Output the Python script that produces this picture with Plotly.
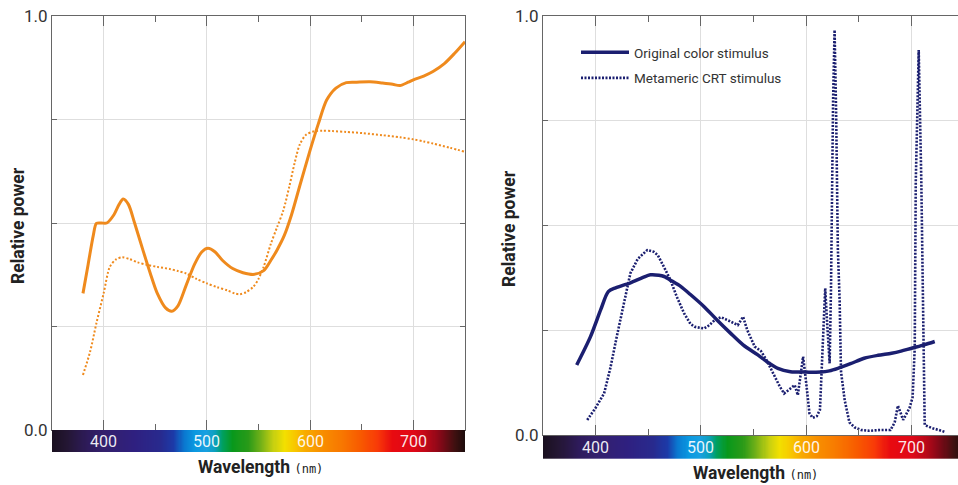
import plotly.graph_objects as go
import numpy as np

# ---------------- data ----------------
left_orig_wl = [380, 385, 390, 393, 398, 403, 410, 415, 419, 424, 430, 438, 445, 452, 460, 466, 472,
                480, 488, 495, 501, 508, 515, 525, 535, 546, 555, 562, 568, 575, 582, 590, 600, 608,
                616, 625, 635, 645, 658, 670, 680, 687, 695, 700, 710, 719, 730, 740, 750]
left_orig_val = [0.330, 0.40, 0.47, 0.499, 0.50, 0.50, 0.52, 0.545, 0.558, 0.545, 0.50, 0.435, 0.38,
                 0.33, 0.295, 0.287, 0.30, 0.35, 0.40, 0.43, 0.439, 0.43, 0.41, 0.39, 0.38, 0.376,
                 0.385, 0.41, 0.435, 0.47, 0.52, 0.59, 0.676, 0.74, 0.797, 0.826, 0.839, 0.84, 0.841,
                 0.838, 0.835, 0.832, 0.84, 0.846, 0.855, 0.866, 0.885, 0.91, 0.938]

left_meta_wl = [380, 387, 393, 400, 406, 412, 418, 425, 433, 442, 452, 464, 472, 480, 490, 500, 510,
                520, 527, 532, 538, 545, 550, 555, 562, 568, 574, 580, 585, 590, 596, 603, 612, 622,
                635, 651, 670, 687, 700, 710, 719, 735, 750]
left_meta_val = [0.133, 0.19, 0.258, 0.33, 0.394, 0.412, 0.417, 0.413, 0.405, 0.399, 0.394, 0.389,
                 0.384, 0.378, 0.365, 0.354, 0.345, 0.337, 0.33, 0.328, 0.333, 0.346, 0.365, 0.394,
                 0.45, 0.49, 0.53, 0.59, 0.645, 0.69, 0.713, 0.721, 0.723, 0.722, 0.72, 0.717,
                 0.712, 0.707, 0.702, 0.697, 0.692, 0.682, 0.672]

right_orig_wl = [382, 395, 405, 412, 419, 433, 445, 452, 460, 465, 472, 481, 490, 503, 515, 528, 540,
                 554, 565, 573, 585, 600, 614, 622, 630, 642, 655, 668, 681, 690, 700, 712, 722]
right_orig_val = [0.167, 0.234, 0.30, 0.342, 0.351, 0.363, 0.376, 0.382, 0.381, 0.378, 0.368, 0.354,
                  0.335, 0.306, 0.275, 0.243, 0.215, 0.191, 0.171, 0.159, 0.151, 0.150, 0.150, 0.153,
                  0.159, 0.170, 0.183, 0.190, 0.195, 0.200, 0.207, 0.215, 0.223]

right_meta_wl = [392, 400, 408, 414, 420, 427, 433, 440, 449, 455, 459, 465, 471, 477, 484, 490, 494,
                 503, 508, 513, 519, 527, 535, 540, 544, 551, 557, 562, 570, 575, 579, 584, 589, 592,
                 597, 600, 603, 606, 610, 613, 616, 618, 620, 622.2, 623.5, 624.4, 625.5, 626.9,
                 628.4, 630, 631.7, 633, 636.5, 641, 646, 652, 660, 670, 680, 684, 687, 690, 692,
                 695, 698, 701, 703, 704, 706.8, 709.3, 711, 712.5, 716, 720, 726, 732]
right_meta_val = [0.036, 0.065, 0.099, 0.16, 0.234, 0.32, 0.386, 0.42, 0.441, 0.437, 0.429, 0.40,
                  0.370, 0.33, 0.290, 0.265, 0.258, 0.254, 0.262, 0.274, 0.281, 0.272, 0.262, 0.282,
                  0.25, 0.211, 0.200, 0.18, 0.139, 0.115, 0.099, 0.11, 0.119, 0.095, 0.187, 0.123,
                  0.052, 0.041, 0.045, 0.06, 0.243, 0.35, 0.26, 0.171, 0.35, 0.62, 0.80, 0.966,
                  0.763, 0.445, 0.32, 0.151, 0.083, 0.03, 0.018, 0.012, 0.010, 0.012, 0.012, 0.03,
                  0.07, 0.05, 0.036, 0.05, 0.064, 0.09, 0.207, 0.604, 0.918, 0.6, 0.207, 0.024,
                  0.02, 0.016, 0.012, 0.007]

x_tick_vals = [400, 500, 600, 700]
x_tick_labels = ["400", "500", "600", "700"]
x_minor_vals = [450, 550, 650]
y_tick_vals = [0, 0.25, 0.5, 0.75, 1.0]
y_tick_labels = ["0.0", "", "", "", "1.0"]

legend_names = ["Original color stimulus", "Metameric CRT stimulus"]

# spectrum colour stops for the wavelength strip
spec_wl = [350, 365, 385, 400, 430, 455, 468, 478, 488, 500, 508, 515, 525, 540, 552, 565, 575,
           585, 597, 610, 630, 650, 665, 680, 700, 712, 725, 740, 750]
spec_col = ["#1a1020", "#241634", "#2e1b5c", "#33206c", "#2f2080", "#282a8e", "#1c3aa8", "#0a78d0",
            "#0a98e0", "#18a0e0", "#0aa0b8", "#00a060", "#08981c", "#2a9a18", "#70b018", "#c8d010",
            "#f2e000", "#f8c800", "#f8a800", "#f89000", "#f87800", "#f85800", "#f83a08", "#e80a10",
            "#e00818", "#c00818", "#880818", "#401010", "#1e0c0c"]

ORANGE = "#ef8a1d"
NAVY = "#1b1f70"
W, H = 958, 485

def px_x(p):
    return p / W

def px_y(p):
    return 1 - p / H

L_dom = [px_x(52), px_x(465)]
R_dom = [px_x(543), 1.0]
L_range = [350, 750]
R_range = [350, 744.1]

fig = go.Figure()

strip_wl = np.arange(350, 751, 1)
cscale = [[(w - 350) / 400, c] for w, c in zip(spec_wl, spec_col)]

# spectrum strips
for xa, ya in (("x3", "y3"), ("x4", "y4")):
    fig.add_trace(go.Heatmap(x=strip_wl, y=[0.5], z=[strip_wl], zmin=350, zmax=750,
                             colorscale=cscale, showscale=False, hoverinfo="skip",
                             xaxis=xa, yaxis=ya))

# left plot
fig.add_trace(go.Scatter(x=left_meta_wl, y=left_meta_val, mode="lines",
                         line=dict(color=ORANGE, width=2, dash="2px,2px", shape="spline", smoothing=0.8),
                         showlegend=False, xaxis="x", yaxis="y"))
fig.add_trace(go.Scatter(x=left_orig_wl, y=left_orig_val, mode="lines",
                         line=dict(color=ORANGE, width=3, shape="spline", smoothing=0.8),
                         showlegend=False, xaxis="x", yaxis="y"))

# right plot
fig.add_trace(go.Scatter(x=right_meta_wl, y=right_meta_val, mode="lines", name=legend_names[1],
                         line=dict(color=NAVY, width=2.6, dash="2px,1.5px"),
                         legendgroup="b", legendrank=2, xaxis="x2", yaxis="y2"))
fig.add_trace(go.Scatter(x=right_orig_wl, y=right_orig_val, mode="lines", name=legend_names[0],
                         line=dict(color=NAVY, width=3.5, shape="spline", smoothing=0.8),
                         legendgroup="a", legendrank=1, xaxis="x2", yaxis="y2"))

AXC = "#666666"
GRID = "#dedede"
TICKFONT = dict(family="Roboto, sans-serif", size=17, color="#333333")

def xaxis_main(dom, rng, anchor):
    return dict(domain=dom, range=rng, anchor=anchor, tickvals=x_tick_vals,
                ticktext=["" for _ in x_tick_vals], ticks="inside", ticklen=10, tickcolor=AXC,
                showline=True, linecolor=AXC, linewidth=1, mirror="ticks",
                showgrid=True, gridcolor=GRID, gridwidth=1, zeroline=False,
                minor=dict(tickvals=x_minor_vals, ticks="inside", ticklen=6, tickcolor=AXC, showgrid=False),
                automargin=False, fixedrange=True)

def yaxis_main(dom, anchor, mirror):
    return dict(domain=dom, range=[0, 1], anchor=anchor, tickvals=y_tick_vals, ticktext=y_tick_labels,
                ticks="inside", ticklen=5, tickcolor=AXC, showline=True, linecolor=AXC, linewidth=1,
                mirror=mirror, showgrid=True, gridcolor=GRID, gridwidth=1, zeroline=False,
                tickfont=TICKFONT, automargin=False, fixedrange=True)

hidden = dict(visible=False, fixedrange=True, automargin=False)

fig.update_layout(
    width=W, height=H, margin=dict(l=0, r=0, t=0, b=0),
    paper_bgcolor="white", plot_bgcolor="white", template="none",
    xaxis=xaxis_main(L_dom, L_range, "y"),
    yaxis=yaxis_main([px_y(430), px_y(16)], "x", "ticks"),
    xaxis2=xaxis_main(R_dom, R_range, "y2"),
    yaxis2=yaxis_main([px_y(435), px_y(15.7)], "x2", False),
    xaxis3=dict(domain=L_dom, range=L_range, anchor="y3", **hidden),
    yaxis3=dict(domain=[px_y(452), px_y(430)], range=[0, 1], anchor="x3", **hidden),
    xaxis4=dict(domain=R_dom, range=R_range, anchor="y4", **hidden),
    yaxis4=dict(domain=[px_y(459), px_y(435.7)], range=[0, 1], anchor="x4", **hidden),
    showlegend=True,
    legend=dict(x=px_x(576), y=px_y(37), xanchor="left", yanchor="top",
                font=dict(family="Roboto, sans-serif", size=13.5, color="#333333"),
                bgcolor="rgba(0,0,0,0)", traceorder="grouped", tracegroupgap=5,
                itemwidth=48),
)

ann = []
for xa, ya in (("x3", "y3"), ("x4", "y4")):
    for v, t in zip(x_tick_vals, x_tick_labels):
        ann.append(dict(x=v, y=0.5, xref=xa, yref=ya + " domain", text=t, showarrow=False,
                        font=dict(family="Roboto, sans-serif", size=16,
                                  color="rgba(255,255,255,0.92)"),
                        xanchor="center", yanchor="middle"))

title_font = dict(family="Roboto, sans-serif", size=17.5, color="#222222")
ann.append(dict(x=px_x(18), y=px_y(226), xref="paper", yref="paper", text="<b>Relative power</b>",
                textangle=-90, showarrow=False, font=title_font, xanchor="center", yanchor="middle"))
ann.append(dict(x=px_x(509), y=px_y(229), xref="paper", yref="paper", text="<b>Relative power</b>",
                textangle=-90, showarrow=False, font=title_font, xanchor="center", yanchor="middle"))
wl_text = ("<b>Wavelength</b> <span style='font-family:DejaVu Sans Mono, monospace;"
           "font-size:12px;font-weight:normal'>(nm)</span>")
ann.append(dict(x=px_x(260), y=px_y(467), xref="paper", yref="paper", text=wl_text,
                showarrow=False, font=title_font, xanchor="center", yanchor="middle"))
ann.append(dict(x=px_x(755), y=px_y(473), xref="paper", yref="paper", text=wl_text,
                showarrow=False, font=title_font, xanchor="center", yanchor="middle"))
fig.update_layout(annotations=ann)

fig.write_html("out.html", config={"displayModeBar": False},
               post_script="document.body.style.margin='0px';")
